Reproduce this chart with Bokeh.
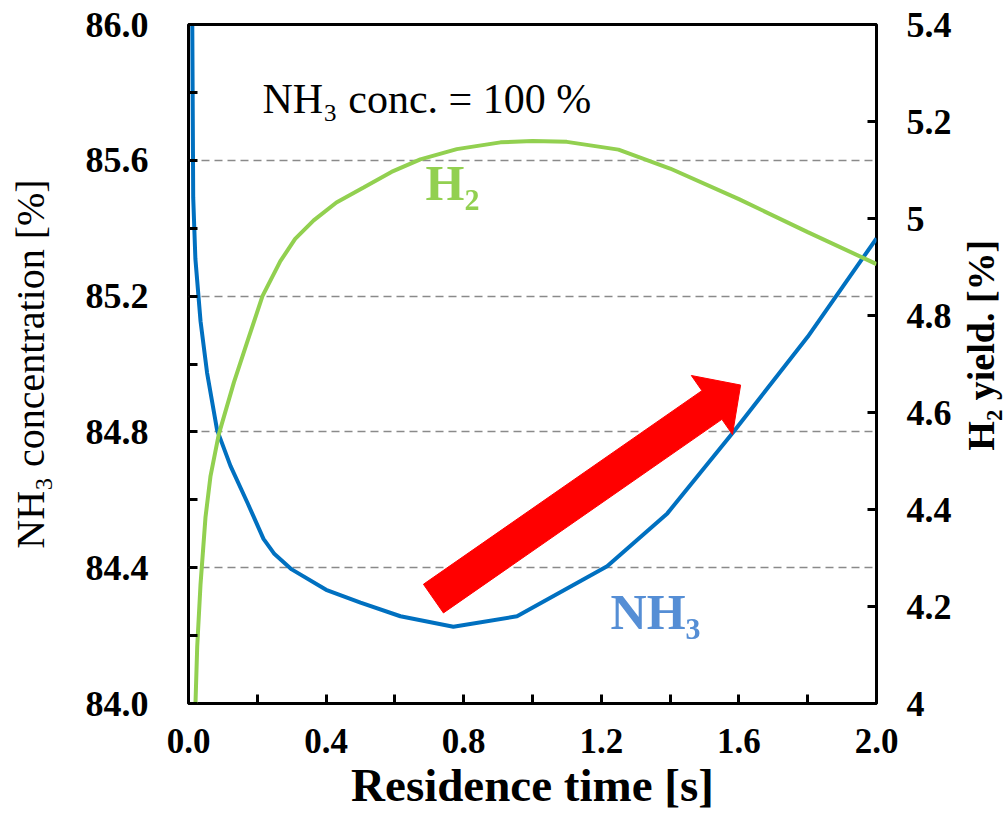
import math
from bokeh.plotting import figure
from bokeh.layouts import row
from bokeh.models import (Range1d, LinearAxis, FixedTicker, PrintfTickFormatter,
                          CustomJSTickFormatter, Label)
from bokeh.embed import file_html
from bokeh.resources import INLINE

# ---------------- data ----------------
nh3_time = [0.011, 0.0137, 0.020, 0.035, 0.054, 0.083, 0.122, 0.171, 0.218, 0.25, 0.30,
            0.40, 0.50, 0.616, 0.77, 0.955, 1.217, 1.392, 1.584, 1.80, 2.0]
nh3_conc = [86.0, 85.49, 85.31, 85.126, 84.974, 84.806, 84.70, 84.592, 84.485, 84.44, 84.395,
            84.335, 84.297, 84.257, 84.226, 84.257, 84.404, 84.56, 84.80, 85.08, 85.37]

h2_time = [0.0203, 0.0253, 0.0349, 0.0494, 0.064, 0.088, 0.132, 0.171, 0.215, 0.267,
           0.31, 0.364, 0.43, 0.509, 0.59, 0.674, 0.78, 0.907, 1.0, 1.1, 1.25, 1.4,
           1.6, 1.8, 2.0]
h2_yield = [4.0, 4.117, 4.245, 4.384, 4.469, 4.555, 4.662, 4.746, 4.84, 4.912,
            4.958, 4.996, 5.033, 5.064, 5.096, 5.122, 5.143, 5.157, 5.160, 5.158,
            5.142, 5.103, 5.040, 4.972, 4.906]

x_ticks = [0.0, 0.4, 0.8, 1.2, 1.6, 2.0]
x_minor = [0.2, 0.6, 1.0, 1.4, 1.8]
left_ticks = [84.0, 84.4, 84.8, 85.2, 85.6, 86.0]
left_minor = [84.2, 84.6, 85.0, 85.4, 85.8]
right_ticks = [4.0, 4.2, 4.4, 4.6, 4.8, 5.0, 5.2, 5.4]
grid_levels = [84.4, 84.8, 85.2, 85.6]

X_RANGE = (0.0, 2.0)
Y_LEFT = (84.0, 86.0)
Y_RIGHT = (4.0, 5.4)

# arrow (annotation) in data coords of left axis
ARROW_TAIL = (0.712, 84.309)
ARROW_TIP = (1.605, 84.938)

# ---------------- layout ----------------
W, H = 1004, 813
STRIP = 50                      # narrow strip on the right holding the right-axis title
MW = W - STRIP
ML, MR, MT, MB = 188, 128 - STRIP, 24, 109
FW, FH = MW - ML - MR, H - MT - MB

FONT = "Liberation Serif"
BLUE = "#0070C0"
GREEN = "#92D050"

p = figure(width=MW, height=H, x_range=Range1d(*X_RANGE), y_range=Range1d(*Y_LEFT),
           output_backend="svg", toolbar_location=None,
           min_border_left=ML, min_border_right=MR, min_border_top=MT, min_border_bottom=MB)
p.extra_y_ranges = {"h2": Range1d(*Y_RIGHT)}
p.background_fill_color = "white"
p.border_fill_color = "white"
p.outline_line_color = "black"
p.outline_line_width = 3

p.xgrid.visible = False
p.ygrid.ticker = FixedTicker(ticks=grid_levels)
p.ygrid.grid_line_color = "#8a8a8a"
p.ygrid.grid_line_dash = "8 5"
p.ygrid.grid_line_width = 1.5


def style_axis(ax, size="36px"):
    ax.axis_line_color = None
    ax.major_tick_in = 9
    ax.major_tick_out = 0
    ax.minor_tick_in = 9
    ax.minor_tick_out = 0
    ax.major_tick_line_width = 3
    ax.minor_tick_line_width = 3
    ax.major_tick_line_color = "black"
    ax.minor_tick_line_color = "black"
    ax.major_label_text_font = FONT
    ax.major_label_text_font_style = "bold"
    ax.major_label_text_font_size = size
    ax.major_label_text_color = "black"
    ax.axis_label_text_font = FONT
    ax.axis_label_text_color = "black"


xa = p.xaxis[0]
style_axis(xa, "35px")
xa.ticker = FixedTicker(ticks=x_ticks, minor_ticks=x_minor)
xa.formatter = PrintfTickFormatter(format="%.1f")
xa.axis_label = "Residence time [s]"
xa.axis_label_text_font_style = "bold"
xa.axis_label_text_font_size = "47px"
xa.major_label_standoff = 25
xa.axis_label_standoff = 3

ya = p.yaxis[0]
style_axis(ya)
ya.ticker = FixedTicker(ticks=left_ticks, minor_ticks=left_minor)
ya.formatter = PrintfTickFormatter(format="%.1f")
ya.axis_label = "NH₃ concentration [%]"
ya.axis_label_text_font_style = "normal"
ya.axis_label_text_font_size = "40px"
ya.major_label_standoff = 40
ya.axis_label_standoff = 30

ra = LinearAxis(y_range_name="h2")
style_axis(ra)
ra.ticker = FixedTicker(ticks=right_ticks, minor_ticks=[])
ra.formatter = CustomJSTickFormatter(code="return String(Math.round(tick*10)/10);")
ra.major_label_standoff = 30
p.add_layout(ra, "right")

# ---------------- curves ----------------
p.line(nh3_time, nh3_conc, line_color=BLUE, line_width=4)
p.line(h2_time, h2_yield, line_color=GREEN, line_width=4, y_range_name="h2")

# ---------------- arrow (polygon built in pixel space) ----------------
sx = FW / (X_RANGE[1] - X_RANGE[0])
sy = FH / (Y_LEFT[1] - Y_LEFT[0])
tx, ty = ARROW_TAIL[0] * sx, ARROW_TAIL[1] * sy
hx, hy = ARROW_TIP[0] * sx, ARROW_TIP[1] * sy
L = math.hypot(hx - tx, hy - ty)
ux, uy = (hx - tx) / L, (hy - ty) / L
nx, ny = -uy, ux
shaft_hw, head_hw, head_len = 17.5, 36.0, 35.0
bx, by = hx - ux * head_len, hy - uy * head_len
pts = [
    (tx + nx * shaft_hw, ty + ny * shaft_hw),
    (bx + nx * shaft_hw, by + ny * shaft_hw),
    (bx + nx * head_hw, by + ny * head_hw),
    (hx, hy),
    (bx - nx * head_hw, by - ny * head_hw),
    (bx - nx * shaft_hw, by - ny * shaft_hw),
    (tx - nx * shaft_hw, ty - ny * shaft_hw),
]
p.patch([q[0] / sx for q in pts], [q[1] / sy for q in pts],
        fill_color="#FF0000", line_color="#FF0000", line_width=1)

# ---------------- text annotations ----------------
p.add_layout(Label(x=0.215, y=85.78, text="NH₃ conc. = 100 %", text_font=FONT,
                   text_font_size="42px", text_color="black", text_baseline="alphabetic"))
p.add_layout(Label(x=0.689, y=85.532, text="H₂", text_font=FONT, text_font_style="bold",
                   text_font_size="50px", text_color=GREEN, text_baseline="alphabetic"))
p.add_layout(Label(x=1.227, y=84.27, text="NH₃", text_font=FONT, text_font_style="bold",
                   text_font_size="50px", text_color="#558ED5", text_baseline="alphabetic"))

# ---------------- right-axis title strip (reads bottom-to-top) ----------------
s = figure(width=STRIP, height=H, x_range=Range1d(0, STRIP), y_range=Range1d(0, H),
           output_backend="svg", toolbar_location=None,
           x_axis_location=None, y_axis_location=None,
           min_border_left=0, min_border_right=0, min_border_top=0, min_border_bottom=0)
s.outline_line_color = None
s.background_fill_color = "white"
s.border_fill_color = "white"
s.xgrid.visible = False
s.ygrid.visible = False
s.add_layout(Label(x=26, y=H - 384, text="H₂ yield. [%]", text_font=FONT,
                   text_font_style="bold", text_font_size="38px", text_color="black",
                   angle=math.pi / 2, text_align="center", text_baseline="middle"))

layout = row(p, s, spacing=0)
open("out.html", "w").write(file_html(layout, INLINE))
